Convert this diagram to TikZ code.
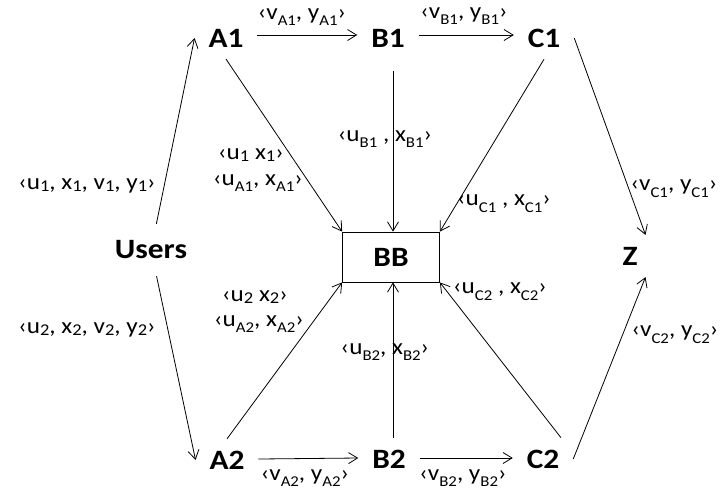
\documentclass[tikz,border=0pt]{standalone}
\usepackage{fontspec}
\setmainfont{Carlito}[FakeStretch=1.12]
\usetikzlibrary{arrows.meta,calc}

% lowered index such as A1, B2 after a variable
\newcommand\lo[1]{\raisebox{-0.3em}{\fontsize{15}{15}\selectfont #1}}
% small digit index sitting on the baseline
\newcommand\ix[1]{\raisebox{-0.08em}{\fontsize{16.5}{16.5}\selectfont #1}}

\begin{document}
\begin{tikzpicture}[x=1pt,y=-1pt,
  ent/.style={font=\fontsize{28}{28}\selectfont\bfseries, inner xsep=14pt, inner ysep=12pt, outer sep=0pt},
  tag/.style={font=\fontsize{22.5}{22.5}\selectfont, inner sep=0pt},
  arr/.style={draw, line width=0.8pt, -{Straight Barb[length=9pt,width=11pt,line width=0.8pt]}}]
\useasboundingbox (0,0) rectangle (722,491);

% parties
\node[ent] (a1) at (226,38) {A1};
\node[ent] (b1) at (388,38) {B1};
\node[ent] (c1) at (544,38) {C1};
\node[ent, inner ysep=17pt, inner xsep=4pt] (users) at (151,250) {Users};
\node[draw, line width=0.8pt, minimum width=97pt, minimum height=50pt,
      font=\fontsize{28}{28}\selectfont\bfseries] (bb) at (391,257) {BB};
\node[ent, inner xsep=8pt] (z) at (630,256) {Z};
\node[ent] (a2) at (227,460) {A2};
\node[ent] (b2) at (389,459) {B2};
\node[ent] (c2) at (543,459) {C2};

% messages
\draw[arr] (users) -- (a1.west);
\draw[arr] (users) -- (a2.west);
\draw[arr] ([yshift=3pt]a1.east) -- ([yshift=3pt]b1.west);
\draw[arr] ([yshift=3pt]b1.east) -- ([yshift=3pt]c1.west);
\draw[arr] ([yshift=1pt]a2.east) -- ([yshift=1pt]b2.west);
\draw[arr] ([yshift=1pt]b2.east) -- ([yshift=1pt]c2.west);
\draw[arr] (a1.south) -- (bb.north west);
\draw[arr, shorten <=12pt] ([xshift=2pt]b1.south -| bb.north) -- ([xshift=2pt]bb.north);
\draw[arr] (c1.south) -- (bb.north east);
\draw[arr] (c1.east) -- (z.north east);
\draw[arr] (a2.north) -- (bb.south west);
\draw[arr] ([xshift=2pt]b2.north -| bb.south) -- ([xshift=2pt]bb.south);
\draw[arr] ([xshift=18pt]c2.north) -- (bb.south east);
\draw[arr] (c2.east) -- (z.south east);

% message contents
\node[tag] (t1) at (302,17) {‹v\lo{A1}, y\lo{A1}›};
\node[tag] (t2) at (464,16) {‹v\lo{B1}, y\lo{B1}›};
\node[tag] (t3) at (87,186) {‹u\ix{1}, x\ix{1}, v\ix{1}, y\ix{1}›};
\node[tag] (t4) at (251,155) {‹u\ix{1} x\ix{1}›};
\node[tag] (t5) at (258,183) {‹u\lo{A1}, x\lo{A1}›};
\node[tag] (t6) at (385,139) {‹u\lo{B1} , x\lo{B1}›};
\node[tag] (t7) at (504,204) {‹u\lo{C1} , x\lo{C1}›};
\node[tag] (t8) at (674,189) {‹v\lo{C1}, y\lo{C1}›};
\node[tag] (t9) at (87,330) {‹u\ix{2}, x\ix{2}, v\ix{2}, y\ix{2}›};
\node[tag] (t10) at (255,297) {‹u\ix{2} x\ix{2}›};
\node[tag] (t11) at (259,324) {‹u\lo{A2}, x\lo{A2}›};
\node[tag] (t12) at (385,352) {‹u\lo{B2}, x\lo{B2}›};
\node[tag] (t13) at (500,292) {‹u\lo{C2} , x\lo{C2}›};
\node[tag] (t14) at (675,335) {‹v\lo{C2}, y\lo{C2}›};
\node[tag] (t15) at (305,478) {‹v\lo{A2}, y\lo{A2}›};
\node[tag] (t16) at (463,478) {‹v\lo{B2}, y\lo{B2}›};
\end{tikzpicture}
\end{document}
